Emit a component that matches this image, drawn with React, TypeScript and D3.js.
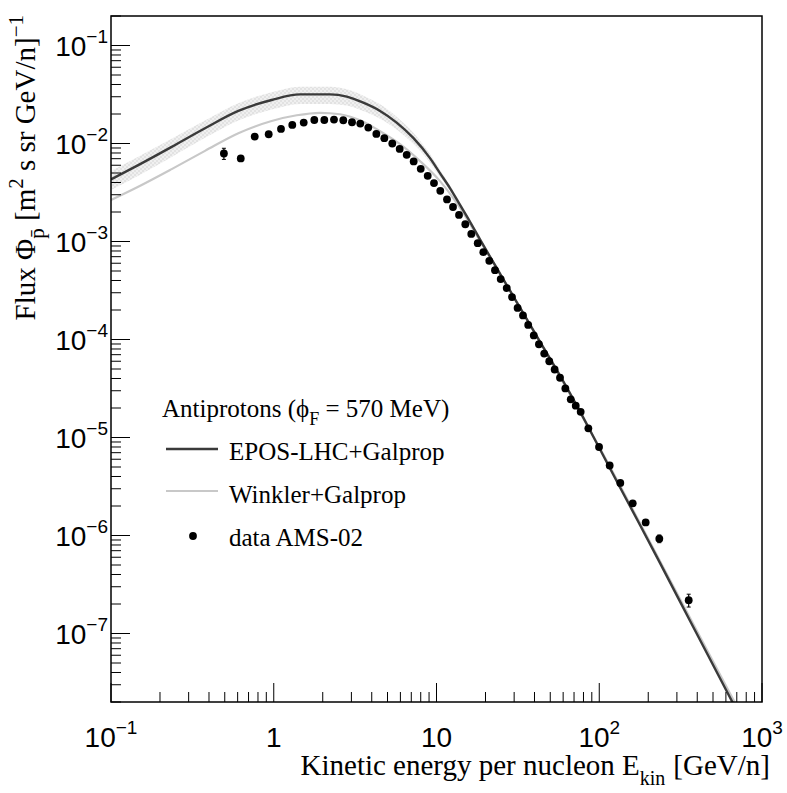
import React from 'react';
import * as d3 from 'd3';

// ---------- data ----------
// AMS-02 antiproton flux (kinetic energy per nucleon [GeV/n], flux [m^2 s sr GeV/n]^-1)
const amsE = [0.494, 0.627, 0.764, 0.931, 1.108, 1.30, 1.528, 1.775, 2.045, 2.345, 2.675, 3.026, 3.402, 3.81, 4.27, 4.78, 5.35, 5.94, 6.56, 7.24, 8.0, 8.83, 9.65, 10.55, 11.6, 12.63, 13.75, 15.03, 16.36, 17.92, 19.4, 21.1, 22.88, 24.8, 27.0, 29.1, 31.5, 34.0, 36.6, 39.6, 42.6, 45.9, 49.3, 53.2, 57.4, 61.9, 66.8, 71.7, 76.9, 85.7, 99.7, 115.9, 134.7, 160.6, 192.9, 233.9, 354.5];
const amsF = [7.91e-3, 7.04e-3, 1.178e-2, 1.243e-2, 1.408e-2, 1.546e-2, 1.635e-2, 1.738e-2, 1.738e-2, 1.755e-2, 1.726e-2, 1.647e-2, 1.598e-2, 1.455e-2, 1.252e-2, 1.132e-2, 1.0e-2, 8.81e-3, 7.66e-3, 6.56e-3, 5.52e-3, 4.68e-3, 3.95e-3, 3.29e-3, 2.69e-3, 2.25e-3, 1.865e-3, 1.50e-3, 1.195e-3, 9.61e-4, 7.78e-4, 6.35e-4, 5.10e-4, 4.14e-4, 3.35e-4, 2.71e-4, 2.10e-4, 1.76e-4, 1.41e-4, 1.10e-4, 8.94e-5, 7.19e-5, 6.00e-5, 4.94e-5, 4.07e-5, 3.17e-5, 2.45e-5, 2.11e-5, 1.83e-5, 1.24e-5, 8.0e-6, 5.18e-6, 3.44e-6, 2.13e-6, 1.36e-6, 9.28e-7, 2.19e-7];
const amsErrRel = [0.13, 0.05, 0.04, 0.04, 0.04, 0.04, 0.04, 0.04, 0.04, 0.04, 0.04, 0.04, 0.04, 0.04, 0.04, 0.04, 0.04, 0.04, 0.04, 0.04, 0.04, 0.04, 0.04, 0.04, 0.04, 0.04, 0.04, 0.04, 0.04, 0.04, 0.04, 0.04, 0.04, 0.04, 0.04, 0.04, 0.04, 0.04, 0.04, 0.04, 0.04, 0.04, 0.04, 0.04, 0.04, 0.04, 0.04, 0.04, 0.04, 0.05, 0.05, 0.05, 0.06, 0.06, 0.07, 0.09, 0.15];

// EPOS-LHC + Galprop model (with uncertainty band, relative half-width)
const eposE = [0.1, 0.147, 0.236, 0.378, 0.606, 0.971, 1.45, 2.22, 2.81, 3.55, 4.50, 5.69, 7.20, 9.12, 10.5, 12.1, 13.95, 16.1, 18.5, 24.6, 32.6, 43.2, 57.4, 76.1, 101, 134, 178, 236, 361, 636, 1000];
const eposF = [4.3e-3, 6.01e-3, 9.23e-3, 1.43e-2, 2.15e-2, 2.78e-2, 3.17e-2, 3.17e-2, 3.01e-2, 2.61e-2, 2.15e-2, 1.635e-2, 1.14e-2, 7.09e-3, 4.99e-3, 3.51e-3, 2.36e-3, 1.58e-3, 1.05e-3, 4.68e-4, 2.11e-4, 9.52e-5, 4.29e-5, 1.85e-5, 7.59e-6, 3.11e-6, 1.28e-6, 5.25e-7, 1.35e-7, 2.22e-8, 5.3e-9];
const eposBand = [0.22, 0.22, 0.21, 0.2, 0.2, 0.2, 0.2, 0.2, 0.19, 0.18, 0.17, 0.15, 0.13, 0.1, 0.08, 0.06, 0.05, 0.045, 0.04, 0.04, 0.04, 0.04, 0.04, 0.04, 0.04, 0.04, 0.04, 0.04, 0.04, 0.04, 0.04];

// Winkler + Galprop model
const winkE = [0.1, 0.147, 0.236, 0.378, 0.606, 0.971, 1.384, 1.924, 2.553, 3.39, 4.50, 5.97, 7.92, 10.51, 13.95, 18.5, 43.2, 101, 236, 636, 1000];
const winkF = [2.65e-3, 3.62e-3, 5.48e-3, 8.41e-3, 1.273e-2, 1.698e-2, 1.941e-2, 2.058e-2, 1.987e-2, 1.726e-2, 1.334e-2, 9.84e-3, 6.61e-3, 4.13e-3, 2.20e-3, 1.014e-3, 9.52e-5, 7.77e-6, 5.5e-7, 2.44e-8, 6.0e-9];

// axis ticks
const xMajor = [0.1, 1, 10, 100, 1000];
const xLabels = [
  { base: '10', exp: '\u22121' },
  { base: '1', exp: '' },
  { base: '10', exp: '' },
  { base: '10', exp: '2' },
  { base: '10', exp: '3' },
];
const yMajor = [1e-7, 1e-6, 1e-5, 1e-4, 1e-3, 1e-2, 1e-1];
const yExps = ['\u22127', '\u22126', '\u22125', '\u22124', '\u22123', '\u22122', '\u22121'];

const legendTitle = 'Antiprotons';
const legendNames = ['EPOS-LHC+Galprop', 'Winkler+Galprop', 'data AMS-02'];

// ---------- layout ----------
const W = 787;
const H = 793;
const L = 111, R = 762, T = 16, B = 702;
const SANS = "'Liberation Sans', Arial, Helvetica, sans-serif";
const SERIF = "'Liberation Serif', 'Times New Roman', Times, serif";

export default function App() {
  const x = d3.scaleLog().domain([0.1, 1000]).range([L, R]);
  const y = d3.scaleLog().domain([2e-8, 0.2]).range([B, T]);

  const line = d3
    .line<[number, number]>()
    .x((d) => x(d[0]))
    .y((d) => y(d[1]))
    .curve(d3.curveMonotoneX);

  const area = d3
    .area<[number, number, number]>()
    .x((d) => x(d[0]))
    .y0((d) => y(d[1] * (1 - d[2])))
    .y1((d) => y(d[1] * (1 + d[2])))
    .curve(d3.curveMonotoneX);

  const eposPts: [number, number][] = eposE.map((e, i) => [e, eposF[i]]);
  const bandPts: [number, number, number][] = eposE.map((e, i) => [e, eposF[i], eposBand[i]]);
  const winkPts: [number, number][] = winkE.map((e, i) => [e, winkF[i]]);

  // minor ticks
  const xMinor: number[] = [];
  for (let p = -1; p < 3; p++) for (let k = 2; k <= 9; k++) xMinor.push(k * Math.pow(10, p));
  const yMinor: number[] = [];
  for (let p = -8; p < 0; p++)
    for (let k = 2; k <= 9; k++) {
      const v = k * Math.pow(10, p);
      if (v >= 2e-8 && v <= 0.2) yMinor.push(v);
    }

  const majLen = 19;
  const minLen = 10;

  return (
    <svg
      width={W}
      height={H}
      style={{ position: 'absolute', left: 0, top: 0, background: '#fff' }}
      xmlns="http://www.w3.org/2000/svg"
    >
      <defs>
        <clipPath id="plotclip">
          <rect x={L} y={T} width={R - L} height={B - T} />
        </clipPath>
        <pattern id="hatch" width="4" height="4" patternUnits="userSpaceOnUse">
          <rect width="4" height="4" fill="#f0f0f0" />
          <rect width="2" height="2" fill="#e2e2e2" />
          <rect x="2" y="2" width="2" height="2" fill="#e2e2e2" />
        </pattern>
      </defs>
      <rect x={0} y={0} width={W} height={H} fill="#fff" />

      <g clipPath="url(#plotclip)">
        <path d={area(bandPts) || ''} fill="url(#hatch)" stroke="none" />
        <path d={line(winkPts) || ''} fill="none" stroke="#c8c8c8" strokeWidth={2.2} />
        <path d={line(eposPts) || ''} fill="none" stroke="#3a3a3a" strokeWidth={2.4} />
        {amsE.map((e, i) => {
          const f = amsF[i];
          const err = f * amsErrRel[i];
          const cx = x(e);
          const y1 = y(f + err);
          const y2 = y(f - err);
          return (
            <g key={i}>
              <line x1={cx} x2={cx} y1={y1} y2={y2} stroke="#000" strokeWidth={1.2} />
              <line x1={cx - 2} x2={cx + 2} y1={y1} y2={y1} stroke="#000" strokeWidth={1} />
              <line x1={cx - 2} x2={cx + 2} y1={y2} y2={y2} stroke="#000" strokeWidth={1} />
              <circle cx={cx} cy={y(f)} r={3.9} fill="#000" />
            </g>
          );
        })}
      </g>

      {/* axes ticks */}
      <g stroke="#000" strokeWidth={1}>
        {xMajor.map((v, i) => (
          <line key={'xM' + i} x1={x(v)} x2={x(v)} y1={B} y2={B - majLen} />
        ))}
        {xMinor.map((v, i) => (
          <line key={'xm' + i} x1={x(v)} x2={x(v)} y1={B} y2={B - minLen} />
        ))}
        {yMajor.map((v, i) => (
          <line key={'yM' + i} x1={L} x2={L + majLen} y1={y(v)} y2={y(v)} />
        ))}
        {yMinor.map((v, i) => (
          <line key={'ym' + i} x1={L} x2={L + minLen} y1={y(v)} y2={y(v)} />
        ))}
      </g>

      {/* frame */}
      <rect x={L} y={T} width={R - L} height={B - T} fill="none" stroke="#000" strokeWidth={1.5} />

      {/* tick labels */}
      <g fontFamily={SANS} fill="#000">
        {xMajor.map((v, i) => (
          <text key={'xl' + i} x={x(v)} y={747} textAnchor="middle" fontSize={28}>
            {xLabels[i].base}
            {xLabels[i].exp ? (
              <tspan fontSize={19} dy={-13}>
                {xLabels[i].exp}
              </tspan>
            ) : null}
          </text>
        ))}
        {yMajor.map((v, i) => (
          <text key={'yl' + i} x={108} y={y(v) + 10} textAnchor="end" fontSize={28}>
            10
            <tspan fontSize={19} dy={-13}>
              {yExps[i]}
            </tspan>
          </text>
        ))}
      </g>

      {/* axis titles */}
      <text x={770} y={775} textAnchor="end" fontFamily={SERIF} fontSize={29} fill="#000">
        Kinetic energy per nucleon E
        <tspan fontSize={20} dy={10}>kin</tspan>
        <tspan dx={8} dy={-10}>[GeV/n]</tspan>
      </text>
      <text
        transform="translate(35,15) rotate(-90)"
        textAnchor="end"
        fontFamily={SERIF}
        fontSize={29}
        fill="#000"
      >
        Flux {'\u03A6'}
        <tspan fontSize={21} dy={9}>{'p\u0304'}</tspan>
        <tspan dy={-9}> [m</tspan>
        <tspan fontSize={21} dy={-12}>2</tspan>
        <tspan dy={12}> s sr GeV/n]</tspan>
        <tspan fontSize={21} dy={-12}>{'\u22121'}</tspan>
      </text>

      {/* legend */}
      <g fontFamily={SERIF} fontSize={25} fill="#000">
        <text x={162} y={417}>
          {legendTitle} ({'\u03D5'}
          <tspan fontSize={18} dy={8}>F</tspan>
          <tspan dy={-8}> = 570 MeV)</tspan>
        </text>
        <line x1={166} x2={218} y1={449} y2={449} stroke="#3a3a3a" strokeWidth={2.4} />
        <text x={229} y={460}>{legendNames[0]}</text>
        <line x1={166} x2={218} y1={491} y2={491} stroke="#c8c8c8" strokeWidth={2.2} />
        <text x={229} y={503}>{legendNames[1]}</text>
        <circle cx={193} cy={536} r={3.9} fill="#000" />
        <text x={229} y={546}>{legendNames[2]}</text>
      </g>
    </svg>
  );
}
